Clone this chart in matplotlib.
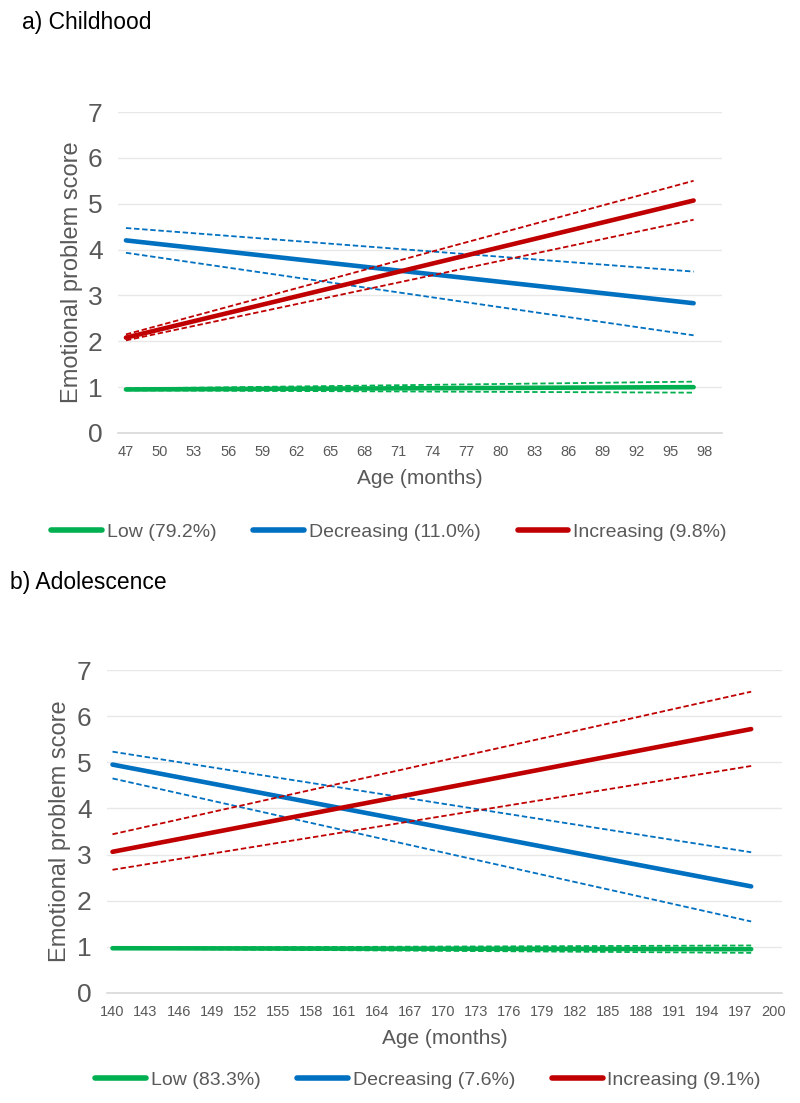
import matplotlib
matplotlib.use("Agg")
import matplotlib.pyplot as plt

plt.rcParams['font.family'] = ['Liberation Sans', 'DejaVu Sans']

# ---- data ----
groups = ['Low', 'Decreasing', 'Increasing']
colours = ['#00B050', '#0070C0', '#C00000']

# a) childhood
age_a = [47, 97]
pct_a = ['79.2%', '11.0%', '9.8%']
est_a = [[0.95, 1.00], [4.20, 2.83], [2.08, 5.07]]
upper_a = [[0.97, 1.12], [4.47, 3.52], [2.15, 5.50]]
lower_a = [[0.93, 0.88], [3.93, 2.13], [2.02, 4.65]]
ticks_a = list(range(47, 99, 3))

# b) adolescence
age_b = [140, 198]
pct_b = ['83.3%', '7.6%', '9.1%']
est_b = [[0.97, 0.95], [4.95, 2.31], [3.06, 5.72]]
upper_b = [[0.98, 1.03], [5.23, 3.05], [3.44, 6.53]]
lower_b = [[0.96, 0.87], [4.65, 1.55], [2.67, 4.92]]
ticks_b = list(range(140, 201, 3))

grey = '#595959'
W, H = 800, 1103
fig = plt.figure(figsize=(W / 100, H / 100), dpi=100)


def px(x0, y0, x1, y1):
    # pixel box (left, top, right, bottom) -> figure fraction
    return [x0 / W, 1 - y1 / H, (x1 - x0) / W, (y1 - y0) / H]


def panel(box, age, est, up, lo, ticks, xlim, pct, title, title_xy, ylab_x, leg_xy):
    ax = fig.add_axes(px(*box))
    for i in range(3):
        ax.plot(age, up[i], color=colours[i], lw=1.3, ls=(0, (3, 1.5)))
        ax.plot(age, lo[i], color=colours[i], lw=1.3, ls=(0, (3, 1.5)))
        ax.plot(age, est[i], color=colours[i], lw=3.3, solid_capstyle='round',
                label=f'{groups[i]} ({pct[i]})')
    ax.set_xlim(*xlim)
    ax.set_ylim(0, 7)
    ax.set_yticks(range(8))
    ax.set_xticks(ticks)
    ax.grid(axis='y', color='#E8E8E8', lw=1)
    ax.set_axisbelow(True)
    for s in ['top', 'right', 'left']:
        ax.spines[s].set_visible(False)
    ax.spines['bottom'].set_color('#D9D9D9')
    ax.spines['bottom'].set_linewidth(1.2)
    ax.tick_params(axis='y', length=0, pad=11, labelsize=19, labelcolor=grey)
    ax.tick_params(axis='x', length=0, pad=9, labelsize=10.5, labelcolor=grey)
    ax.set_xlabel('Age (months)', fontsize=15, color=grey, labelpad=7)
    fig.text(ylab_x / W, 1 - (box[1] + box[3]) / 2 / H, 'Emotional problem score',
             rotation=90, ha='center', va='center', fontsize=17, color=grey)
    fig.text(title_xy[0] / W, 1 - title_xy[1] / H, title, fontsize=16.5,
             ha='left', va='center', color='black')
    leg = fig.legend(*ax.get_legend_handles_labels(), loc='center', ncol=3,
                     bbox_to_anchor=(leg_xy[0] / W, 1 - leg_xy[1] / H), frameon=False,
                     fontsize=14, labelcolor=grey, handlelength=2.6, handletextpad=0.25,
                     columnspacing=1.9)
    for h in leg.legend_handles:
        h.set_linewidth(4)
    return ax


panel((118, 112, 722, 433), age_a, est_a, upper_a, lower_a, ticks_a, (46.3, 99.5),
      pct_a, 'a) Childhood', (22, 22), 72, (389, 532))
panel((107, 670, 782, 993), age_b, est_b, upper_b, lower_b, ticks_b, (139.5, 200.8),
      pct_b, 'b) Adolescence', (10, 582), 60, (428, 1080))

fig.savefig('out.png', dpi=100)
